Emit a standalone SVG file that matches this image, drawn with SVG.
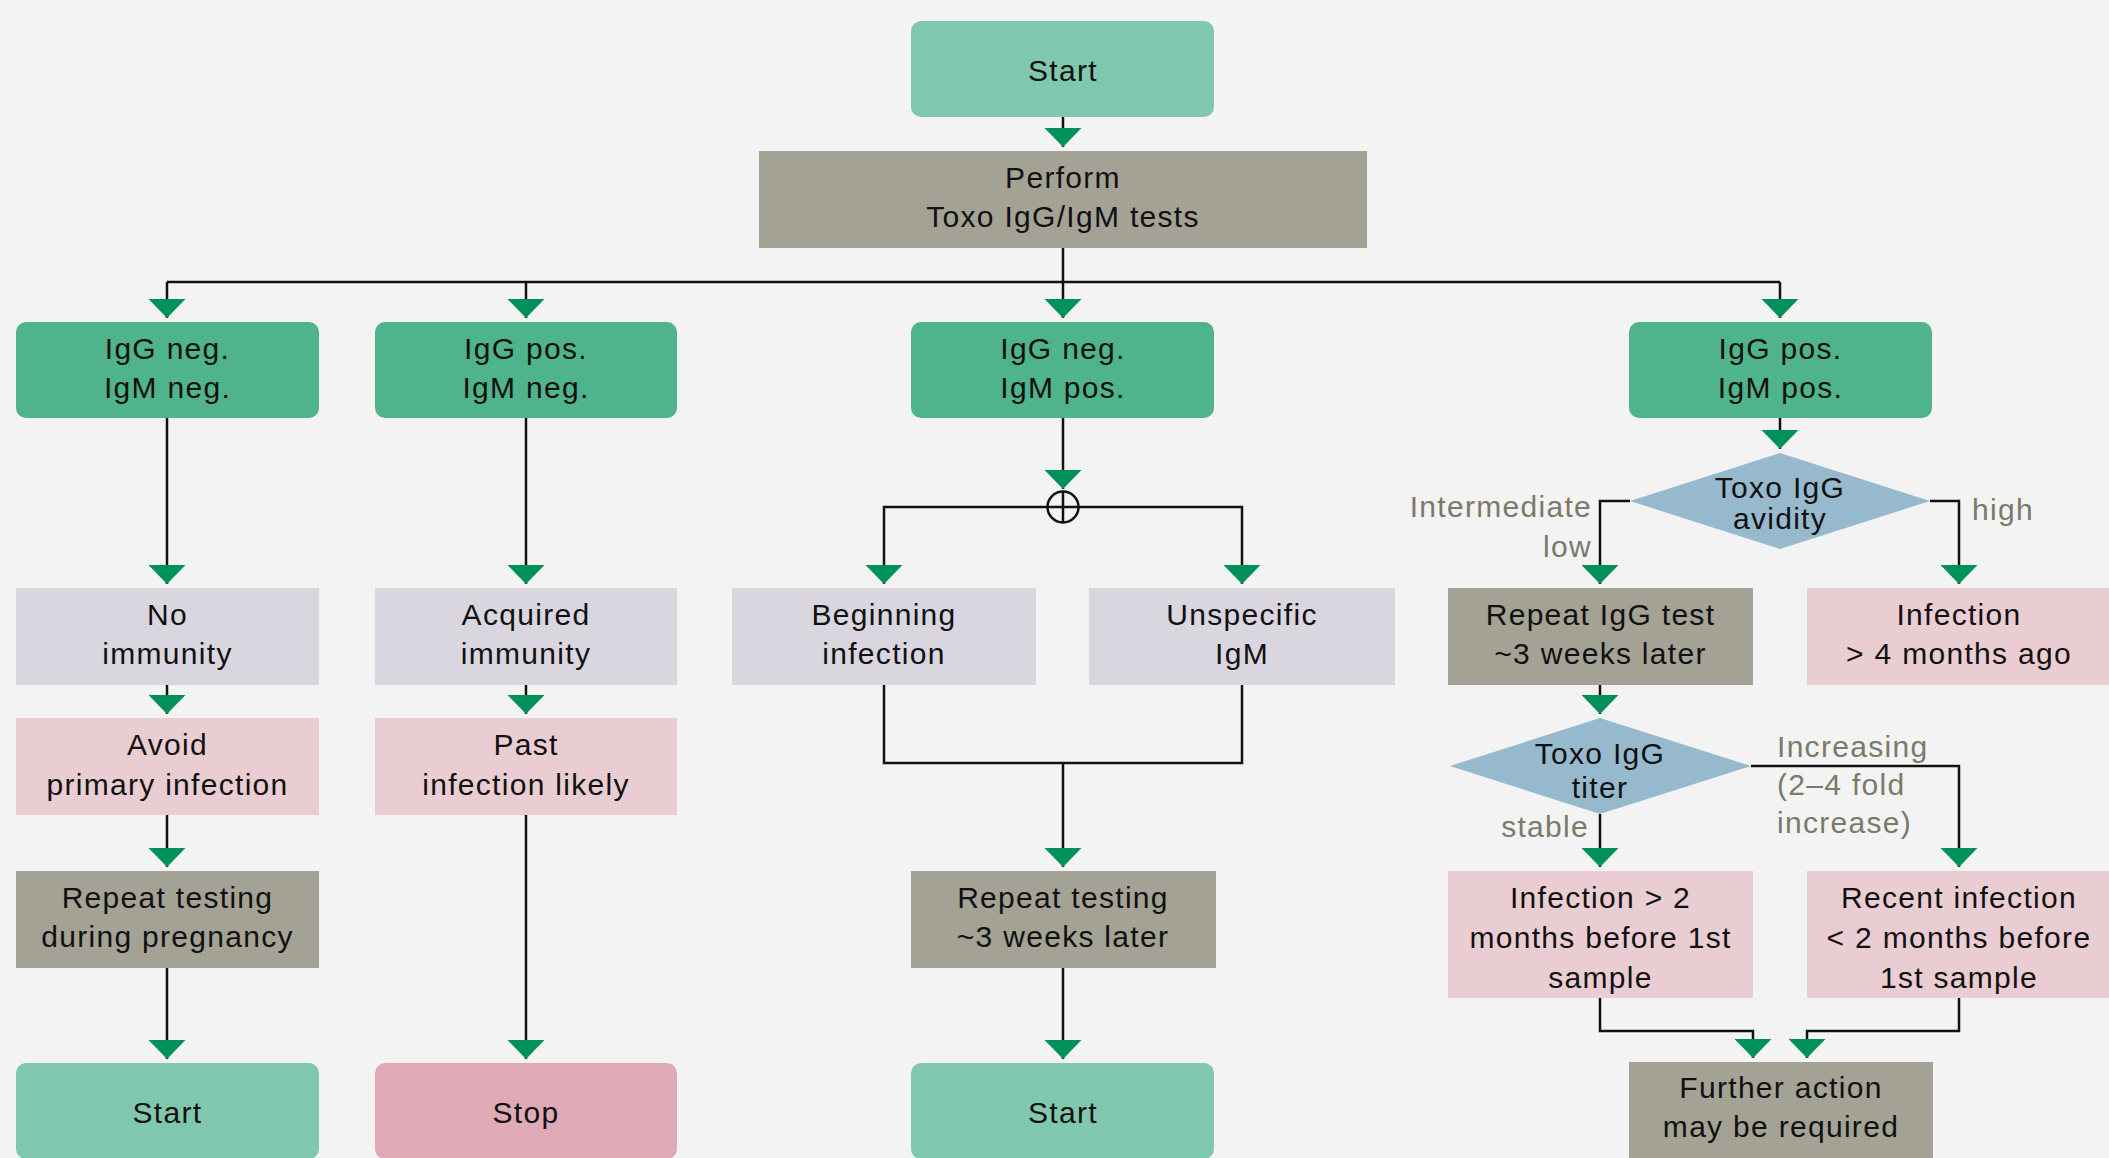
<svg xmlns="http://www.w3.org/2000/svg" width="2109" height="1158" viewBox="0 0 2109 1158">
<defs>
<style>
.t{font-family:"Liberation Sans",Arial,sans-serif;font-size:30px;letter-spacing:1.3px;text-anchor:middle;fill:#111}
.lb{font-family:"Liberation Sans",Arial,sans-serif;font-size:30px;letter-spacing:1.3px;fill:#7b7a6a}
.end{text-anchor:end}
.c{fill:none;stroke:#111;stroke-width:2.5}
.start{fill:#80c8ad}
.res{fill:#4fb38c}
.gray{fill:#a3a295}
.lav{fill:#d9d6e0}
.pink{fill:#eacdd3}
.stop{fill:#dfa9b5}
.dia{fill:#96b9cd}
</style>
<marker id="ah" viewBox="0 -18.5 19 37" refX="19" refY="0" markerWidth="19" markerHeight="37" markerUnits="userSpaceOnUse" orient="auto">
<path d="M0,-18.5 L19,0 L0,18.5 z" fill="#00915a"/>
</marker>
</defs>
<rect width="2109" height="1158" fill="#f3f3f3"/>

<g id="connectors">
<path class="c" d="M1063,117 V147" marker-end="url(#ah)"/>
<path class="c" d="M1063,248 V318" marker-end="url(#ah)"/>
<path class="c" d="M167,282 H1780"/>
<path class="c" d="M167,282 V318" marker-end="url(#ah)"/>
<path class="c" d="M526,282 V318" marker-end="url(#ah)"/>
<path class="c" d="M1780,282 V318" marker-end="url(#ah)"/>
<path class="c" d="M167,418 V584" marker-end="url(#ah)"/>
<path class="c" d="M526,418 V584" marker-end="url(#ah)"/>
<path class="c" d="M1063,418 V489" marker-end="url(#ah)"/>
<path class="c" d="M1063,507 H884 V584" marker-end="url(#ah)"/>
<path class="c" d="M1063,507 H1242 V584" marker-end="url(#ah)"/>
<circle class="c" cx="1063" cy="507" r="15.5"/>
<path class="c" d="M1063,491.5 V522.5"/>
<path class="c" d="M1780,418 V449" marker-end="url(#ah)"/>
<path class="c" d="M1630,501 H1600 V584" marker-end="url(#ah)"/>
<path class="c" d="M1930,501 H1959 V584" marker-end="url(#ah)"/>
<path class="c" d="M167,685 V714" marker-end="url(#ah)"/>
<path class="c" d="M526,685 V714" marker-end="url(#ah)"/>
<path class="c" d="M884,685 V763 H1242 V685"/>
<path class="c" d="M1063,763 V867" marker-end="url(#ah)"/>
<path class="c" d="M1600,685 V714" marker-end="url(#ah)"/>
<path class="c" d="M1600,814 V867" marker-end="url(#ah)"/>
<path class="c" d="M1751,766 H1959 V867" marker-end="url(#ah)"/>
<path class="c" d="M167,815 V867" marker-end="url(#ah)"/>
<path class="c" d="M526,815 V1059" marker-end="url(#ah)"/>
<path class="c" d="M167,968 V1059" marker-end="url(#ah)"/>
<path class="c" d="M1063,968 V1059" marker-end="url(#ah)"/>
<path class="c" d="M1600,998 V1031 H1753 V1058" marker-end="url(#ah)"/>
<path class="c" d="M1959,998 V1031 H1807 V1058" marker-end="url(#ah)"/>
</g>

<g id="labels">
<text class="lb end" x="1592" y="517">Intermediate</text>
<text class="lb end" x="1592" y="557">low</text>
<text class="lb" x="1972" y="520">high</text>
<text class="lb" x="1777" y="757">Increasing</text>
<text class="lb" x="1777" y="795">(2–4 fold</text>
<text class="lb" x="1777" y="833">increase)</text>
<text class="lb end" x="1589" y="837">stable</text>
</g>

<g id="start-top"><rect class="start" x="911" y="21" width="303" height="96" rx="10"/><text class="t" x="1063" y="81">Start</text></g>
<g id="perform"><rect class="gray" x="759" y="151" width="608" height="97"/><text class="t" x="1063" y="188">Perform</text><text class="t" x="1063" y="227">Toxo IgG/IgM tests</text></g>

<g id="res-nn"><rect class="res" x="16" y="322" width="303" height="96" rx="10"/><text class="t" x="167.5" y="359">IgG neg.</text><text class="t" x="167.5" y="398">IgM neg.</text></g>
<g id="res-pn"><rect class="res" x="375" y="322" width="302" height="96" rx="10"/><text class="t" x="526" y="359">IgG pos.</text><text class="t" x="526" y="398">IgM neg.</text></g>
<g id="res-np"><rect class="res" x="911" y="322" width="303" height="96" rx="10"/><text class="t" x="1063" y="359">IgG neg.</text><text class="t" x="1063" y="398">IgM pos.</text></g>
<g id="res-pp"><rect class="res" x="1629" y="322" width="303" height="96" rx="10"/><text class="t" x="1780.5" y="359">IgG pos.</text><text class="t" x="1780.5" y="398">IgM pos.</text></g>

<g id="no-immunity"><rect class="lav" x="16" y="588" width="303" height="97"/><text class="t" x="167.5" y="625">No</text><text class="t" x="167.5" y="664">immunity</text></g>
<g id="acquired"><rect class="lav" x="375" y="588" width="302" height="97"/><text class="t" x="526" y="625">Acquired</text><text class="t" x="526" y="664">immunity</text></g>
<g id="beginning"><rect class="lav" x="732" y="588" width="304" height="97"/><text class="t" x="884" y="625">Beginning</text><text class="t" x="884" y="664">infection</text></g>
<g id="unspecific"><rect class="lav" x="1089" y="588" width="306" height="97"/><text class="t" x="1242" y="625">Unspecific</text><text class="t" x="1242" y="664">IgM</text></g>

<g id="avidity"><polygon class="dia" points="1780,453 1930,501 1780,549 1630,501"/><text class="t" x="1780" y="498">Toxo IgG</text><text class="t" x="1780" y="529">avidity</text></g>
<g id="repeat-igg"><rect class="gray" x="1448" y="588" width="305" height="97"/><text class="t" x="1600.5" y="625">Repeat IgG test</text><text class="t" x="1600.5" y="664">~3 weeks later</text></g>
<g id="inf-4m"><rect class="pink" x="1807" y="588" width="305" height="97"/><text class="t" x="1959" y="625">Infection</text><text class="t" x="1959" y="664">&gt; 4 months ago</text></g>

<g id="avoid"><rect class="pink" x="16" y="718" width="303" height="97"/><text class="t" x="167.5" y="755">Avoid</text><text class="t" x="167.5" y="795">primary infection</text></g>
<g id="past"><rect class="pink" x="375" y="718" width="302" height="97"/><text class="t" x="526" y="755">Past</text><text class="t" x="526" y="795">infection likely</text></g>
<g id="titer"><polygon class="dia" points="1600,718 1751,766 1600,814 1450,766"/><text class="t" x="1600" y="764">Toxo IgG</text><text class="t" x="1600" y="798">titer</text></g>

<g id="repeat-preg"><rect class="gray" x="16" y="871" width="303" height="97"/><text class="t" x="167.5" y="908">Repeat testing</text><text class="t" x="167.5" y="947">during pregnancy</text></g>
<g id="repeat-3w"><rect class="gray" x="911" y="871" width="305" height="97"/><text class="t" x="1063" y="908">Repeat testing</text><text class="t" x="1063" y="947">~3 weeks later</text></g>
<g id="inf-2m"><rect class="pink" x="1448" y="871" width="305" height="127"/><text class="t" x="1600.5" y="908">Infection &gt; 2</text><text class="t" x="1600.5" y="948">months before 1st</text><text class="t" x="1600.5" y="988">sample</text></g>
<g id="recent"><rect class="pink" x="1807" y="871" width="305" height="127"/><text class="t" x="1959" y="908">Recent infection</text><text class="t" x="1959" y="948">&lt; 2 months before</text><text class="t" x="1959" y="988">1st sample</text></g>

<g id="start-1"><rect class="start" x="16" y="1063" width="303" height="96" rx="10"/><text class="t" x="167.5" y="1123">Start</text></g>
<g id="stop"><rect class="stop" x="375" y="1063" width="302" height="96" rx="10"/><text class="t" x="526" y="1123">Stop</text></g>
<g id="start-3"><rect class="start" x="911" y="1063" width="303" height="96" rx="10"/><text class="t" x="1063" y="1123">Start</text></g>
<g id="further"><rect class="gray" x="1629" y="1062" width="304" height="100"/><text class="t" x="1781" y="1098">Further action</text><text class="t" x="1781" y="1137">may be required</text></g>
</svg>
